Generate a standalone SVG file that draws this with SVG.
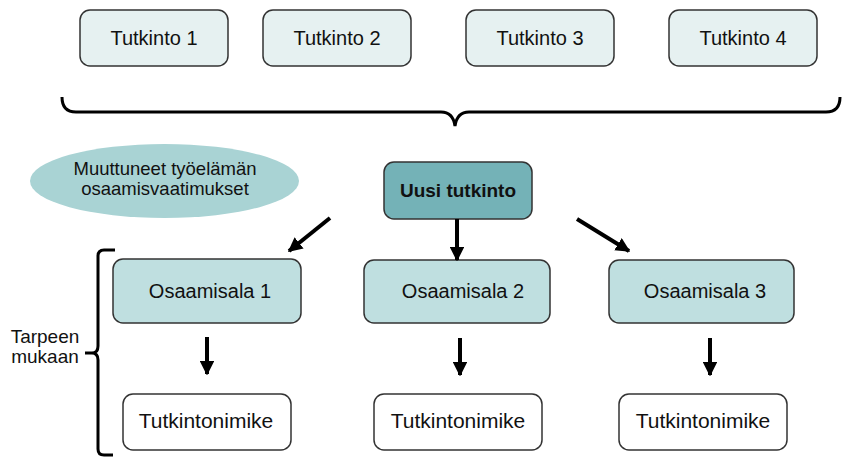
<svg xmlns="http://www.w3.org/2000/svg" width="843" height="457" viewBox="0 0 843 457">
<defs>
<style>
text{font-family:"Liberation Sans",Arial,sans-serif;fill:#111;text-anchor:middle}
.t{font-size:20px}
.top rect{fill:#e6f1f1;stroke:#333;stroke-width:1.5}
.osa rect{fill:#bfdfe0;stroke:#333;stroke-width:1.5}
.nim rect{fill:#fff;stroke:#333;stroke-width:1.5}
.br{fill:none;stroke:#000;stroke-width:3}
.ar{stroke:#000;stroke-width:4;fill:none}
</style>
<marker id="ah" viewBox="0 0 10 10" refX="9" refY="5" markerWidth="3.6" markerHeight="3.6" markerUnits="strokeWidth" orient="auto">
<path d="M0,0 L10,5 L0,10 Z" fill="#000"/>
</marker>
</defs>
<g id="tutkinto1" class="top"><rect x="80" y="10" width="148" height="56" rx="10"/><text class="t" x="154" y="45">Tutkinto 1</text></g>
<g id="tutkinto2" class="top"><rect x="263" y="10" width="148" height="56" rx="10"/><text class="t" x="337" y="45">Tutkinto 2</text></g>
<g id="tutkinto3" class="top"><rect x="466" y="10" width="148" height="56" rx="10"/><text class="t" x="540" y="45">Tutkinto 3</text></g>
<g id="tutkinto4" class="top"><rect x="669" y="10" width="148" height="56" rx="10"/><text class="t" x="743" y="45">Tutkinto 4</text></g>
<g id="brace-top"><path class="br" d="M62,97 Q62,112 76,112 L441,112 Q453,112 455,126 Q457,112 469,112 L826,112 Q840,112 840,97"/></g>
<g id="muuttuneet"><ellipse cx="164.5" cy="181" rx="134.5" ry="37" fill="#a9d3d4"/><text x="165" y="175" style="font-size:18.5px">Muuttuneet työelämän</text><text x="165" y="195" style="font-size:18.5px">osaamisvaatimukset</text></g>
<g id="uusi"><rect x="384" y="162" width="148" height="57" rx="10" fill="#74b2b7" stroke="#333" stroke-width="1.5"/><text x="458" y="197" style="font-size:19px;font-weight:bold">Uusi tutkinto</text></g>
<g id="osaamisala1" class="osa"><rect x="113" y="259" width="188" height="64" rx="10"/><text class="t" x="210" y="298">Osaamisala 1</text></g>
<g id="osaamisala2" class="osa"><rect x="364" y="260" width="186" height="63" rx="10"/><text class="t" x="463" y="298">Osaamisala 2</text></g>
<g id="osaamisala3" class="osa"><rect x="609" y="260" width="185" height="63" rx="10"/><text class="t" x="705" y="298">Osaamisala 3</text></g>
<g id="nimike1" class="nim"><rect x="123" y="394" width="168" height="56" rx="10"/><text class="t" x="206" y="428" style="font-size:21px">Tutkintonimike</text></g>
<g id="nimike2" class="nim"><rect x="374" y="394" width="168" height="56" rx="10"/><text class="t" x="458" y="428" style="font-size:21px">Tutkintonimike</text></g>
<g id="nimike3" class="nim"><rect x="619" y="394" width="168" height="56" rx="10"/><text class="t" x="703" y="428" style="font-size:21px">Tutkintonimike</text></g>
<g id="brace-left"><path class="br" d="M115,250 L104,250 Q98,250 98,256 L98,346 Q98,353 92,353 L85,353 M92,353 Q98,353 98,360 L98,449 Q98,455 104,455 L113,455"/>
<text x="45" y="343" style="font-size:19px">Tarpeen</text><text x="45" y="363" style="font-size:19px">mukaan</text></g>
<g id="connectors">
<line class="ar" x1="330" y1="218" x2="289" y2="251" marker-end="url(#ah)"/>
<line class="ar" x1="457" y1="219" x2="457" y2="260" marker-end="url(#ah)"/>
<line class="ar" x1="577" y1="219" x2="629" y2="251" marker-end="url(#ah)"/>
<line class="ar" x1="207" y1="337" x2="207" y2="374" marker-end="url(#ah)"/>
<line class="ar" x1="460" y1="338" x2="460" y2="375" marker-end="url(#ah)"/>
<line class="ar" x1="710" y1="338" x2="710" y2="375" marker-end="url(#ah)"/>
</g>
</svg>
